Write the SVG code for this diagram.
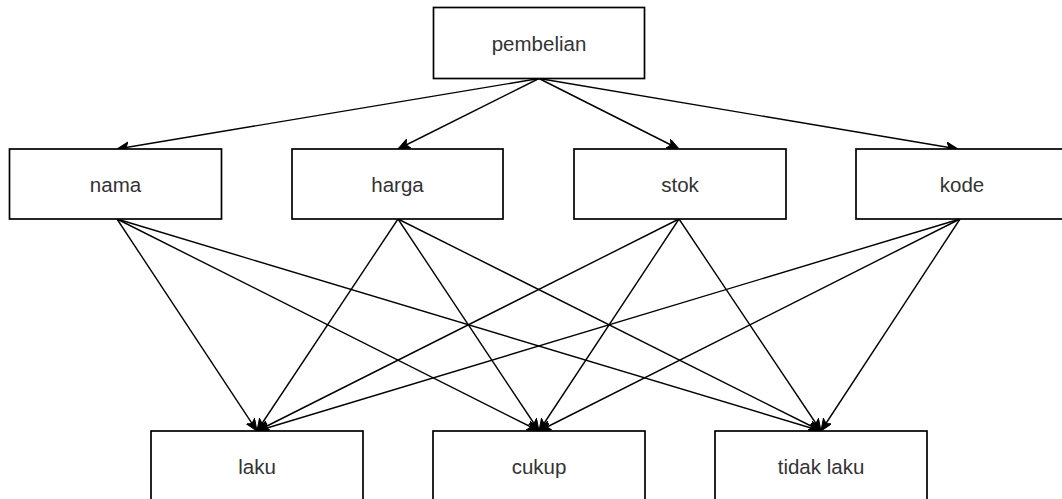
<svg xmlns="http://www.w3.org/2000/svg" width="1062" height="499" viewBox="0 0 1062 499">
<style>
.box{fill:#fff;stroke:#000;stroke-width:1.7}
.lbl{font-family:"Liberation Sans",Arial,sans-serif;font-size:20.5px;fill:#333;text-anchor:middle}
.edge{stroke:#000;stroke-width:1.4;fill:none;marker-end:url(#arr)}
</style>
<defs>
<marker id="arr" markerUnits="userSpaceOnUse" markerWidth="14" markerHeight="12" refX="12" refY="5" orient="auto" viewBox="0 0 14 12">
<path d="M0,0 L12,5 L0,10 L3,5 Z" fill="#000" stroke="#000" stroke-width="1"/>
</marker>
</defs>
<rect width="1062" height="499" fill="#fff"/>
<g id="connectors">
<line class="edge" x1="539" y1="78.5" x2="117" y2="149"/>
<line class="edge" x1="539" y1="78.5" x2="398" y2="149"/>
<line class="edge" x1="539" y1="78.5" x2="679" y2="149"/>
<line class="edge" x1="539" y1="78.5" x2="958" y2="149"/>
<line class="edge" x1="117" y1="219" x2="257" y2="431"/>
<line class="edge" x1="117" y1="219" x2="539" y2="431"/>
<line class="edge" x1="117" y1="219" x2="821" y2="431"/>
<line class="edge" x1="398" y1="219" x2="257" y2="431"/>
<line class="edge" x1="398" y1="219" x2="539" y2="431"/>
<line class="edge" x1="398" y1="219" x2="821" y2="431"/>
<line class="edge" x1="679" y1="219" x2="257" y2="431"/>
<line class="edge" x1="679" y1="219" x2="539" y2="431"/>
<line class="edge" x1="679" y1="219" x2="821" y2="431"/>
<line class="edge" x1="960" y1="219" x2="257" y2="431"/>
<line class="edge" x1="960" y1="219" x2="539" y2="431"/>
<line class="edge" x1="960" y1="219" x2="821" y2="431"/>
</g>
<g id="pembelian"><rect class="box" x="433.5" y="7.5" width="211" height="71"/><text class="lbl" x="539" y="50.5">pembelian</text></g>
<g id="nama"><rect class="box" x="9.5" y="149" width="212" height="70"/><text class="lbl" x="115.5" y="191.5">nama</text></g>
<g id="harga"><rect class="box" x="292" y="149" width="211" height="70"/><text class="lbl" x="397.5" y="191.5">harga</text></g>
<g id="stok"><rect class="box" x="574" y="149" width="212" height="70"/><text class="lbl" x="680" y="191.5">stok</text></g>
<g id="kode"><rect class="box" x="856" y="149" width="212" height="70"/><text class="lbl" x="962" y="191.5">kode</text></g>
<g id="laku"><rect class="box" x="151" y="431" width="212" height="71"/><text class="lbl" x="257" y="474">laku</text></g>
<g id="cukup"><rect class="box" x="433" y="431" width="212" height="71"/><text class="lbl" x="539" y="474">cukup</text></g>
<g id="tidak-laku"><rect class="box" x="715" y="431" width="212" height="71"/><text class="lbl" x="821" y="474">tidak laku</text></g>
</svg>
